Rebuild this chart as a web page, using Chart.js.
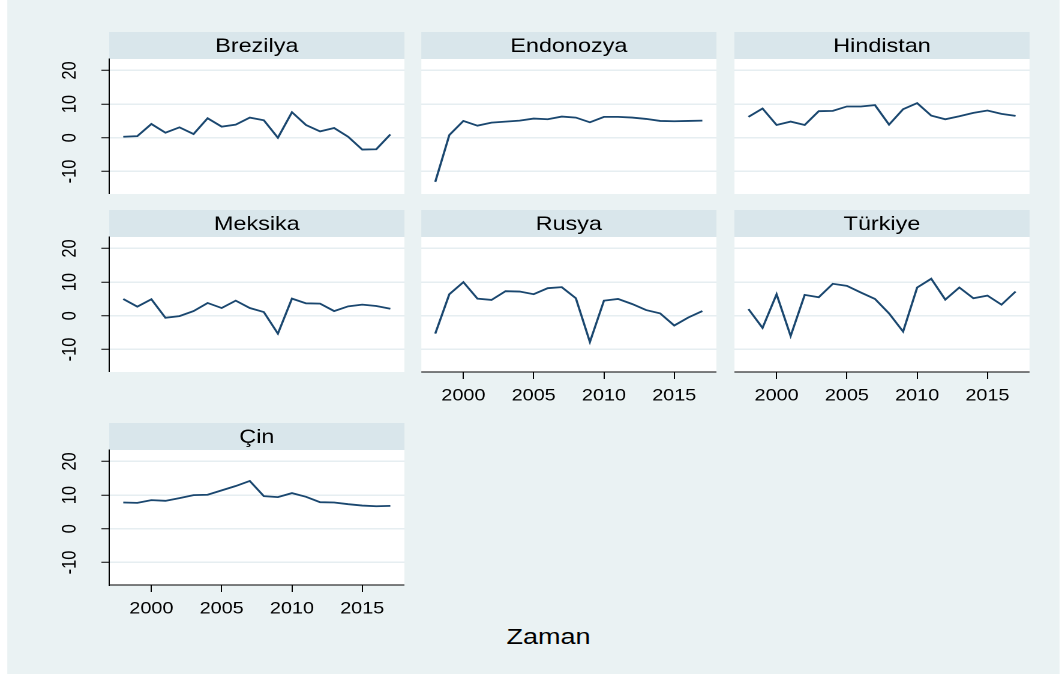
<!DOCTYPE html>
<html>
<head>
<meta charset="utf-8">
<script src="https://cdn.jsdelivr.net/npm/chart.js@4"></script>
<style>
  html, body { margin: 0; padding: 0; background: #fff; overflow: hidden; }
  #wrap { position: absolute; left: 0; top: 0; width: 884px; height: 674px; transform: scaleX(1.2); transform-origin: 0 0; }
  #bg { position: absolute; top: 0; height: 674px; background: #eaf2f3; }
  canvas { position: absolute; }
  #xtitle { position: absolute; width: 200px; text-align: center; font-family: 'Liberation Sans', Arial, sans-serif; font-size: 22.5px; line-height: 22.5px; color: #000; }
</style>
</head>
<body>
<div id="wrap">
  <div id="bg"></div>
  <div id="xtitle">Zaman</div>
</div>
<script>
// data
const years = [1998, 1999, 2000, 2001, 2002, 2003, 2004, 2005, 2006, 2007, 2008, 2009, 2010, 2011, 2012, 2013, 2014, 2015, 2016, 2017];
const brezilya = [0.3, 0.5, 4.1, 1.5, 3.1, 1.1, 5.8, 3.3, 3.9, 6.0, 5.2, 0.0, 7.6, 3.8, 1.9, 2.9, 0.3, -3.5, -3.4, 1.0];
const endonozya = [-13.1, 0.8, 5.0, 3.6, 4.5, 4.8, 5.1, 5.7, 5.5, 6.3, 6.0, 4.6, 6.2, 6.2, 6.0, 5.6, 5.0, 4.9, 5.0, 5.1];
const hindistan = [6.2, 8.7, 3.8, 4.8, 3.8, 7.9, 8.0, 9.3, 9.3, 9.7, 3.9, 8.5, 10.3, 6.6, 5.5, 6.4, 7.4, 8.1, 7.1, 6.5];
const meksika = [5.0, 2.7, 4.9, -0.6, -0.1, 1.4, 3.8, 2.3, 4.5, 2.3, 1.1, -5.3, 5.1, 3.7, 3.6, 1.4, 2.8, 3.3, 2.9, 2.1];
const rusya = [-5.3, 6.4, 10.0, 5.1, 4.7, 7.3, 7.2, 6.4, 8.2, 8.5, 5.2, -7.8, 4.5, 5.0, 3.5, 1.7, 0.7, -2.9, -0.5, 1.4];
const turkiye = [2.0, -3.6, 6.4, -6.0, 6.2, 5.5, 9.5, 8.9, 6.9, 5.0, 0.7, -4.7, 8.4, 11.0, 4.8, 8.4, 5.2, 6.0, 3.3, 7.2];
const cin = [7.8, 7.7, 8.5, 8.3, 9.1, 10.0, 10.1, 11.4, 12.7, 14.2, 9.7, 9.4, 10.6, 9.5, 7.9, 7.8, 7.3, 6.9, 6.7, 6.8];

const countries = ['Brezilya', 'Endonozya', 'Hindistan', 'Meksika', 'Rusya', 'Türkiye', 'Çin'];
const series = [brezilya, endonozya, hindistan, meksika, rusya, turkiye, cin];
const yTicks = [-10, 0, 10, 20];
const xTicks = [2000, 2005, 2010, 2015];

// layout (reference pixels, x gets divided by S because of the css stretch)
const S = 1.2;
const colLeft = [109, 421, 734];
const plotW = 295;
const stripTop = [32, 210, 423];
const stripH = 27;
const plotH = 135;
const yAxisW = 62;
const xAxisH = 40;
const FONT = "'Liberation Sans', Arial, sans-serif";

Chart.defaults.font.family = FONT;

document.getElementById('bg').style.left = (7 / S) + 'px';
document.getElementById('bg').style.width = ((1060 - 7) / S) + 'px';
const xt = document.getElementById('xtitle');
xt.style.left = (548.5 / S - 100) + 'px';
xt.style.top = '626px';

// strip on top of each panel + white plot area
const stripPlugin = {
  id: 'strip',
  beforeDraw(chart, args, opts) {
    const ctx = chart.ctx, a = chart.chartArea;
    ctx.save();
    ctx.fillStyle = '#d9e6eb';
    ctx.fillRect(a.left, 0, a.right - a.left, a.top);
    ctx.fillStyle = '#ffffff';
    ctx.fillRect(a.left, a.top, a.right - a.left, a.bottom - a.top);
    ctx.fillStyle = '#000';
    ctx.font = '19.5px ' + FONT;
    ctx.textAlign = 'center';
    ctx.textBaseline = 'alphabetic';
    ctx.fillText(opts.text, (a.left + a.right) / 2, 20);
    ctx.restore();
  },
  // stata style vertical y labels
  afterDraw(chart, args, opts) {
    if (!opts.yLabels) return;
    const ctx = chart.ctx, ys = chart.scales.y;
    const cx = chart.chartArea.left - 39 / S;
    ctx.save();
    ctx.fillStyle = '#000';
    ctx.font = '16.5px ' + FONT;
    ctx.textAlign = 'center';
    ctx.textBaseline = 'middle';
    yTicks.forEach(v => {
      ctx.save();
      ctx.translate(cx, ys.getPixelForValue(v));
      ctx.rotate(-Math.PI / 2);
      ctx.fillText(String(v), 0, 0);
      ctx.restore();
    });
    ctx.restore();
  }
};

const wrap = document.getElementById('wrap');

series.forEach(function (vals, i) {
  const r = Math.floor(i / 3), c = i % 3;
  const hasY = c === 0;
  const hasX = r === 2 || (r === 1 && c > 0);
  const yw = hasY ? Math.round(yAxisW / S) : 0;
  const w = Math.round((hasY ? yAxisW : 0) / S + plotW / S);
  const h = stripH + plotH + (hasX ? xAxisH : 0);

  const cv = document.createElement('canvas');
  cv.width = w;
  cv.height = h;
  cv.style.left = ((colLeft[c] - (hasY ? yAxisW : 0)) / S) + 'px';
  cv.style.top = stripTop[r] + 'px';
  wrap.appendChild(cv);

  new Chart(cv, {
    type: 'line',
    data: {
      datasets: [{
        data: years.map((yr, k) => ({ x: yr, y: vals[k] })),
        borderColor: '#1a476f',
        borderWidth: 1.8,
        pointRadius: 0,
        tension: 0,
        fill: false
      }]
    },
    options: {
      responsive: false,
      animation: false,
      devicePixelRatio: 2,
      layout: { padding: { top: stripH, left: 0, right: 0, bottom: 0 } },
      plugins: {
        legend: { display: false },
        tooltip: { enabled: false },
        strip: { text: countries[i], yLabels: hasY }
      },
      scales: {
        x: {
          type: 'linear',
          min: 1997,
          max: 2018,
          display: hasX,
          afterBuildTicks: s => { s.ticks = xTicks.map(v => ({ value: v })); },
          afterFit: s => { s.height = hasX ? xAxisH : 0; s.paddingLeft = 0; s.paddingRight = 0; },
          ticks: { font: { size: 16.5 }, color: '#000', padding: 7, maxRotation: 0, autoSkip: false, callback: v => String(v) },
          grid: { drawOnChartArea: false, drawTicks: true, tickLength: 7, tickColor: '#000', tickWidth: 1 },
          border: { display: true, color: '#000', width: 1 }
        },
        y: {
          type: 'linear',
          min: -16.7,
          max: 23.4,
          afterBuildTicks: s => { s.ticks = yTicks.map(v => ({ value: v })); },
          afterFit: s => { s.width = yw; s.paddingTop = 0; s.paddingBottom = 0; },
          ticks: { display: false },
          grid: { color: '#e6eef1', lineWidth: 1.5, drawTicks: hasY, tickLength: 6.5, tickColor: '#000', tickWidth: 1 },
          border: { display: hasY, color: '#000', width: 1 }
        }
      }
    },
    plugins: [stripPlugin]
  });
});
</script>
</body>
</html>
